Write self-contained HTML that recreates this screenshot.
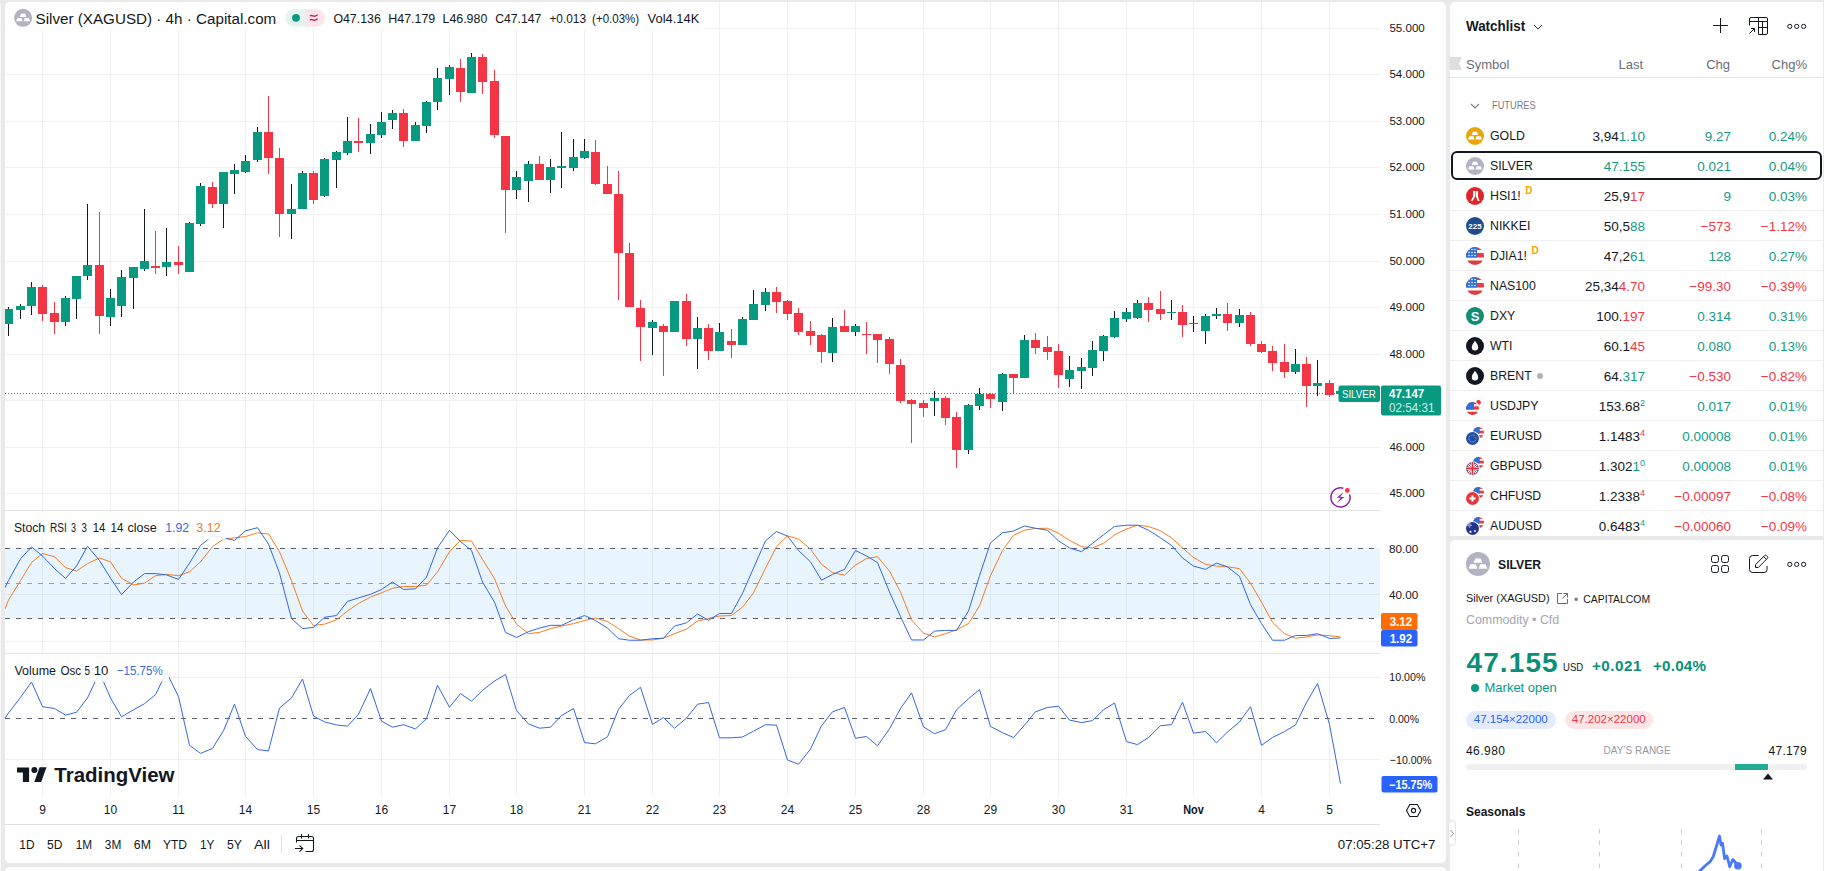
<!DOCTYPE html>
<html><head><meta charset="utf-8"><title>Silver (XAGUSD) 4h chart</title>
<style>
*{box-sizing:border-box}
html,body{margin:0;padding:0}
body{width:1824px;height:871px;overflow:hidden;background:#e9e9ea;position:relative;font-family:"Liberation Sans",Arial,sans-serif;color:#131722}
.abs{position:absolute}
#chartbg{position:absolute;left:5px;top:2px;width:1441px;height:860.5px;background:#fff;border-radius:5px}
#below{position:absolute;left:5px;top:867px;width:1441px;height:20px;background:#fff;border-radius:5px 5px 0 0}
#wl{position:absolute;left:1450px;top:2px;width:1373px;width:373px;height:534px;background:#fff;border-radius:5px 0 0 0}
#det{position:absolute;left:1450px;top:540px;width:373px;height:340px;background:#fff;border-radius:5px 0 0 0}
.row{position:absolute;left:0;width:373px;height:30px;border-bottom:1px solid #eeeeee}
.row .ic{position:absolute;left:16px;top:6px}
.row .sym{position:absolute;left:40px;top:7px;font-size:12.3px;line-height:16px;color:#131722}
.row .num{position:absolute;top:7.7px;font-size:13.5px;line-height:16px;text-align:right;white-space:nowrap}
.row .last{right:178px}
.row .chg{right:92px}
.row .chgp{right:16px}
.row sup{font-size:9px;vertical-align:0;position:relative;top:-5px}
.badge{position:relative;top:-6.5px;margin-left:4.5px;font-size:10px;font-weight:bold;color:#f5a300}
.gdot{display:inline-block;margin-left:5px;width:6px;height:6px;border-radius:3px;background:#b2b5be;vertical-align:1px}
.hd{position:absolute;font-size:13px;color:#6a6d78;top:55px}
</style></head>
<body>
<div id="chartbg"></div>
<div id="below"></div>
<div class="abs" style="left:0;top:4px;width:1px;height:867px;background:#f8f8f8"></div>
<svg class="abs" style="left:0;top:0" width="1446" height="871" viewBox="0 0 1446 871">
<defs><clipPath id="plot"><rect x="5" y="2" width="1375" height="860"/></clipPath></defs>
<g clip-path="url(#plot)">
<line x1="42.5" y1="2" x2="42.5" y2="510" stroke="#f0f0f0"/>
<line x1="42.5" y1="511" x2="42.5" y2="652" stroke="#f0f0f0"/>
<line x1="42.5" y1="654" x2="42.5" y2="796" stroke="#f0f0f0"/>
<line x1="110.5" y1="2" x2="110.5" y2="510" stroke="#f0f0f0"/>
<line x1="110.5" y1="511" x2="110.5" y2="652" stroke="#f0f0f0"/>
<line x1="110.5" y1="654" x2="110.5" y2="796" stroke="#f0f0f0"/>
<line x1="178.5" y1="2" x2="178.5" y2="510" stroke="#f0f0f0"/>
<line x1="178.5" y1="511" x2="178.5" y2="652" stroke="#f0f0f0"/>
<line x1="178.5" y1="654" x2="178.5" y2="796" stroke="#f0f0f0"/>
<line x1="245.5" y1="2" x2="245.5" y2="510" stroke="#f0f0f0"/>
<line x1="245.5" y1="511" x2="245.5" y2="652" stroke="#f0f0f0"/>
<line x1="245.5" y1="654" x2="245.5" y2="796" stroke="#f0f0f0"/>
<line x1="313.5" y1="2" x2="313.5" y2="510" stroke="#f0f0f0"/>
<line x1="313.5" y1="511" x2="313.5" y2="652" stroke="#f0f0f0"/>
<line x1="313.5" y1="654" x2="313.5" y2="796" stroke="#f0f0f0"/>
<line x1="381.5" y1="2" x2="381.5" y2="510" stroke="#f0f0f0"/>
<line x1="381.5" y1="511" x2="381.5" y2="652" stroke="#f0f0f0"/>
<line x1="381.5" y1="654" x2="381.5" y2="796" stroke="#f0f0f0"/>
<line x1="449.5" y1="2" x2="449.5" y2="510" stroke="#f0f0f0"/>
<line x1="449.5" y1="511" x2="449.5" y2="652" stroke="#f0f0f0"/>
<line x1="449.5" y1="654" x2="449.5" y2="796" stroke="#f0f0f0"/>
<line x1="516.5" y1="2" x2="516.5" y2="510" stroke="#f0f0f0"/>
<line x1="516.5" y1="511" x2="516.5" y2="652" stroke="#f0f0f0"/>
<line x1="516.5" y1="654" x2="516.5" y2="796" stroke="#f0f0f0"/>
<line x1="584.5" y1="2" x2="584.5" y2="510" stroke="#f0f0f0"/>
<line x1="584.5" y1="511" x2="584.5" y2="652" stroke="#f0f0f0"/>
<line x1="584.5" y1="654" x2="584.5" y2="796" stroke="#f0f0f0"/>
<line x1="652.5" y1="2" x2="652.5" y2="510" stroke="#f0f0f0"/>
<line x1="652.5" y1="511" x2="652.5" y2="652" stroke="#f0f0f0"/>
<line x1="652.5" y1="654" x2="652.5" y2="796" stroke="#f0f0f0"/>
<line x1="719.5" y1="2" x2="719.5" y2="510" stroke="#f0f0f0"/>
<line x1="719.5" y1="511" x2="719.5" y2="652" stroke="#f0f0f0"/>
<line x1="719.5" y1="654" x2="719.5" y2="796" stroke="#f0f0f0"/>
<line x1="787.5" y1="2" x2="787.5" y2="510" stroke="#f0f0f0"/>
<line x1="787.5" y1="511" x2="787.5" y2="652" stroke="#f0f0f0"/>
<line x1="787.5" y1="654" x2="787.5" y2="796" stroke="#f0f0f0"/>
<line x1="855.5" y1="2" x2="855.5" y2="510" stroke="#f0f0f0"/>
<line x1="855.5" y1="511" x2="855.5" y2="652" stroke="#f0f0f0"/>
<line x1="855.5" y1="654" x2="855.5" y2="796" stroke="#f0f0f0"/>
<line x1="923.5" y1="2" x2="923.5" y2="510" stroke="#f0f0f0"/>
<line x1="923.5" y1="511" x2="923.5" y2="652" stroke="#f0f0f0"/>
<line x1="923.5" y1="654" x2="923.5" y2="796" stroke="#f0f0f0"/>
<line x1="990.5" y1="2" x2="990.5" y2="510" stroke="#f0f0f0"/>
<line x1="990.5" y1="511" x2="990.5" y2="652" stroke="#f0f0f0"/>
<line x1="990.5" y1="654" x2="990.5" y2="796" stroke="#f0f0f0"/>
<line x1="1058.5" y1="2" x2="1058.5" y2="510" stroke="#f0f0f0"/>
<line x1="1058.5" y1="511" x2="1058.5" y2="652" stroke="#f0f0f0"/>
<line x1="1058.5" y1="654" x2="1058.5" y2="796" stroke="#f0f0f0"/>
<line x1="1126.5" y1="2" x2="1126.5" y2="510" stroke="#f0f0f0"/>
<line x1="1126.5" y1="511" x2="1126.5" y2="652" stroke="#f0f0f0"/>
<line x1="1126.5" y1="654" x2="1126.5" y2="796" stroke="#f0f0f0"/>
<line x1="1193.5" y1="2" x2="1193.5" y2="510" stroke="#f0f0f0"/>
<line x1="1193.5" y1="511" x2="1193.5" y2="652" stroke="#f0f0f0"/>
<line x1="1193.5" y1="654" x2="1193.5" y2="796" stroke="#f0f0f0"/>
<line x1="1261.5" y1="2" x2="1261.5" y2="510" stroke="#f0f0f0"/>
<line x1="1261.5" y1="511" x2="1261.5" y2="652" stroke="#f0f0f0"/>
<line x1="1261.5" y1="654" x2="1261.5" y2="796" stroke="#f0f0f0"/>
<line x1="1329.5" y1="2" x2="1329.5" y2="510" stroke="#f0f0f0"/>
<line x1="1329.5" y1="511" x2="1329.5" y2="652" stroke="#f0f0f0"/>
<line x1="1329.5" y1="654" x2="1329.5" y2="796" stroke="#f0f0f0"/>
<line x1="5" y1="28.5" x2="1380" y2="28.5" stroke="#f0f0f0"/>
<line x1="5" y1="74.5" x2="1380" y2="74.5" stroke="#f0f0f0"/>
<line x1="5" y1="121.5" x2="1380" y2="121.5" stroke="#f0f0f0"/>
<line x1="5" y1="167.5" x2="1380" y2="167.5" stroke="#f0f0f0"/>
<line x1="5" y1="214.5" x2="1380" y2="214.5" stroke="#f0f0f0"/>
<line x1="5" y1="261.5" x2="1380" y2="261.5" stroke="#f0f0f0"/>
<line x1="5" y1="307.5" x2="1380" y2="307.5" stroke="#f0f0f0"/>
<line x1="5" y1="354.5" x2="1380" y2="354.5" stroke="#f0f0f0"/>
<line x1="5" y1="400.5" x2="1380" y2="400.5" stroke="#f0f0f0"/>
<line x1="5" y1="447.5" x2="1380" y2="447.5" stroke="#f0f0f0"/>
<line x1="5" y1="493.5" x2="1380" y2="493.5" stroke="#f0f0f0"/>
<line x1="5" y1="594.5" x2="1380" y2="594.5" stroke="#f0f0f0"/>
<line x1="5" y1="641.5" x2="1380" y2="641.5" stroke="#f0f0f0"/>
<rect x="5" y="548" width="1375" height="70" fill="#2196f3" fill-opacity="0.1"/>
<line x1="5" y1="548.5" x2="1380" y2="548.5" stroke="#5f626d" stroke-dasharray="5,6"/>
<line x1="5" y1="583.5" x2="1380" y2="583.5" stroke="#9a9da6" stroke-dasharray="5,6"/>
<line x1="5" y1="618.5" x2="1380" y2="618.5" stroke="#5f626d" stroke-dasharray="5,6"/>
<line x1="5" y1="677.5" x2="1380" y2="677.5" stroke="#f0f0f0"/>
<line x1="5" y1="759.5" x2="1380" y2="759.5" stroke="#f0f0f0"/>
<line x1="5" y1="718.5" x2="1380" y2="718.5" stroke="#5f626d" stroke-dasharray="5,6"/>
<line x1="5" y1="510.5" x2="1446" y2="510.5" stroke="#e0e1e5"/>
<line x1="5" y1="653.5" x2="1446" y2="653.5" stroke="#e0e1e5"/>
<line x1="5" y1="824.5" x2="1446" y2="824.5" stroke="#e0e1e5"/>
<rect x="8" y="307" width="1" height="29" fill="#131722"/>
<rect x="4" y="309" width="9" height="15" fill="#089981"/>
<rect x="20" y="304" width="1" height="15" fill="#131722"/>
<rect x="16" y="306" width="9" height="4" fill="#089981"/>
<rect x="31" y="282" width="1" height="33" fill="#131722"/>
<rect x="27" y="287" width="9" height="19" fill="#089981"/>
<rect x="42" y="285" width="1" height="36" fill="#f23645"/>
<rect x="38" y="287" width="9" height="27" fill="#f23645"/>
<rect x="54" y="302" width="1" height="32" fill="#f23645"/>
<rect x="50" y="313" width="9" height="9" fill="#f23645"/>
<rect x="65" y="296" width="1" height="30" fill="#131722"/>
<rect x="61" y="298" width="9" height="24" fill="#089981"/>
<rect x="76" y="276" width="1" height="43" fill="#131722"/>
<rect x="72" y="276" width="9" height="23" fill="#089981"/>
<rect x="87" y="204" width="1" height="76" fill="#131722"/>
<rect x="83" y="265" width="9" height="11" fill="#089981"/>
<rect x="99" y="212" width="1" height="122" fill="#f23645"/>
<rect x="95" y="265" width="9" height="51" fill="#f23645"/>
<rect x="110" y="289" width="1" height="37" fill="#131722"/>
<rect x="106" y="298" width="9" height="19" fill="#089981"/>
<rect x="121" y="270" width="1" height="47" fill="#131722"/>
<rect x="117" y="277" width="9" height="29" fill="#089981"/>
<rect x="133" y="267" width="1" height="42" fill="#131722"/>
<rect x="129" y="267" width="9" height="11" fill="#089981"/>
<rect x="144" y="209" width="1" height="62" fill="#131722"/>
<rect x="140" y="261" width="9" height="8" fill="#089981"/>
<rect x="155" y="231" width="1" height="43" fill="#f23645"/>
<rect x="151" y="266" width="9" height="2" fill="#f23645"/>
<rect x="166" y="228" width="1" height="48" fill="#131722"/>
<rect x="162" y="262" width="9" height="5" fill="#089981"/>
<rect x="178" y="246" width="1" height="28" fill="#f23645"/>
<rect x="174" y="262" width="9" height="3" fill="#f23645"/>
<rect x="189" y="222" width="1" height="50" fill="#131722"/>
<rect x="185" y="223" width="9" height="49" fill="#089981"/>
<rect x="200" y="183" width="1" height="43" fill="#131722"/>
<rect x="196" y="186" width="9" height="38" fill="#089981"/>
<rect x="212" y="182" width="1" height="26" fill="#f23645"/>
<rect x="208" y="187" width="9" height="17" fill="#f23645"/>
<rect x="223" y="172" width="1" height="56" fill="#131722"/>
<rect x="219" y="172" width="9" height="32" fill="#089981"/>
<rect x="234" y="164" width="1" height="30" fill="#131722"/>
<rect x="230" y="170" width="9" height="4" fill="#089981"/>
<rect x="245" y="155" width="1" height="18" fill="#131722"/>
<rect x="241" y="161" width="9" height="11" fill="#089981"/>
<rect x="257" y="127" width="1" height="35" fill="#131722"/>
<rect x="253" y="132" width="9" height="28" fill="#089981"/>
<rect x="268" y="96" width="1" height="78" fill="#f23645"/>
<rect x="264" y="132" width="9" height="26" fill="#f23645"/>
<rect x="279" y="148" width="1" height="89" fill="#f23645"/>
<rect x="275" y="158" width="9" height="56" fill="#f23645"/>
<rect x="291" y="184" width="1" height="55" fill="#131722"/>
<rect x="287" y="209" width="9" height="5" fill="#089981"/>
<rect x="302" y="171" width="1" height="38" fill="#131722"/>
<rect x="298" y="173" width="9" height="36" fill="#089981"/>
<rect x="313" y="171" width="1" height="33" fill="#f23645"/>
<rect x="309" y="173" width="9" height="27" fill="#f23645"/>
<rect x="324" y="158" width="1" height="39" fill="#131722"/>
<rect x="320" y="159" width="9" height="37" fill="#089981"/>
<rect x="336" y="151" width="1" height="37" fill="#131722"/>
<rect x="332" y="152" width="9" height="8" fill="#089981"/>
<rect x="347" y="117" width="1" height="38" fill="#131722"/>
<rect x="343" y="141" width="9" height="12" fill="#089981"/>
<rect x="358" y="118" width="1" height="34" fill="#f23645"/>
<rect x="354" y="141" width="9" height="2" fill="#f23645"/>
<rect x="370" y="124" width="1" height="30" fill="#131722"/>
<rect x="366" y="134" width="9" height="9" fill="#089981"/>
<rect x="381" y="112" width="1" height="26" fill="#131722"/>
<rect x="377" y="122" width="9" height="13" fill="#089981"/>
<rect x="392" y="110" width="1" height="19" fill="#131722"/>
<rect x="388" y="113" width="9" height="7" fill="#089981"/>
<rect x="403" y="109" width="1" height="38" fill="#f23645"/>
<rect x="399" y="113" width="9" height="28" fill="#f23645"/>
<rect x="415" y="122" width="1" height="19" fill="#131722"/>
<rect x="411" y="125" width="9" height="16" fill="#089981"/>
<rect x="426" y="101" width="1" height="32" fill="#131722"/>
<rect x="422" y="102" width="9" height="24" fill="#089981"/>
<rect x="437" y="68" width="1" height="42" fill="#131722"/>
<rect x="433" y="78" width="9" height="24" fill="#089981"/>
<rect x="449" y="65" width="1" height="30" fill="#131722"/>
<rect x="445" y="67" width="9" height="12" fill="#089981"/>
<rect x="460" y="59" width="1" height="43" fill="#f23645"/>
<rect x="456" y="68" width="9" height="24" fill="#f23645"/>
<rect x="471" y="53" width="1" height="40" fill="#131722"/>
<rect x="467" y="57" width="9" height="36" fill="#089981"/>
<rect x="482" y="54" width="1" height="40" fill="#f23645"/>
<rect x="478" y="57" width="9" height="25" fill="#f23645"/>
<rect x="494" y="70" width="1" height="68" fill="#f23645"/>
<rect x="490" y="81" width="9" height="54" fill="#f23645"/>
<rect x="505" y="136" width="1" height="97" fill="#f23645"/>
<rect x="501" y="136" width="9" height="54" fill="#f23645"/>
<rect x="516" y="171" width="1" height="28" fill="#131722"/>
<rect x="512" y="177" width="9" height="13" fill="#089981"/>
<rect x="528" y="161" width="1" height="41" fill="#131722"/>
<rect x="524" y="164" width="9" height="17" fill="#089981"/>
<rect x="539" y="156" width="1" height="24" fill="#f23645"/>
<rect x="535" y="164" width="9" height="16" fill="#f23645"/>
<rect x="550" y="159" width="1" height="34" fill="#131722"/>
<rect x="546" y="167" width="9" height="13" fill="#089981"/>
<rect x="561" y="132" width="1" height="56" fill="#131722"/>
<rect x="557" y="166" width="9" height="2" fill="#089981"/>
<rect x="573" y="139" width="1" height="32" fill="#131722"/>
<rect x="569" y="157" width="9" height="11" fill="#089981"/>
<rect x="584" y="139" width="1" height="20" fill="#131722"/>
<rect x="580" y="151" width="9" height="7" fill="#089981"/>
<rect x="595" y="140" width="1" height="45" fill="#f23645"/>
<rect x="591" y="152" width="9" height="32" fill="#f23645"/>
<rect x="607" y="166" width="1" height="28" fill="#f23645"/>
<rect x="603" y="184" width="9" height="10" fill="#f23645"/>
<rect x="618" y="171" width="1" height="129" fill="#f23645"/>
<rect x="614" y="194" width="9" height="59" fill="#f23645"/>
<rect x="629" y="243" width="1" height="64" fill="#f23645"/>
<rect x="625" y="253" width="9" height="54" fill="#f23645"/>
<rect x="640" y="300" width="1" height="61" fill="#f23645"/>
<rect x="636" y="308" width="9" height="19" fill="#f23645"/>
<rect x="652" y="320" width="1" height="35" fill="#131722"/>
<rect x="648" y="322" width="9" height="6" fill="#089981"/>
<rect x="663" y="324" width="1" height="52" fill="#f23645"/>
<rect x="659" y="326" width="9" height="6" fill="#f23645"/>
<rect x="674" y="301" width="1" height="31" fill="#131722"/>
<rect x="670" y="301" width="9" height="31" fill="#089981"/>
<rect x="686" y="294" width="1" height="52" fill="#f23645"/>
<rect x="682" y="301" width="9" height="38" fill="#f23645"/>
<rect x="697" y="317" width="1" height="52" fill="#131722"/>
<rect x="693" y="328" width="9" height="11" fill="#089981"/>
<rect x="708" y="324" width="1" height="36" fill="#f23645"/>
<rect x="704" y="328" width="9" height="23" fill="#f23645"/>
<rect x="719" y="323" width="1" height="28" fill="#131722"/>
<rect x="715" y="332" width="9" height="19" fill="#089981"/>
<rect x="731" y="329" width="1" height="29" fill="#f23645"/>
<rect x="727" y="341" width="9" height="4" fill="#f23645"/>
<rect x="742" y="317" width="1" height="28" fill="#131722"/>
<rect x="738" y="319" width="9" height="26" fill="#089981"/>
<rect x="753" y="290" width="1" height="30" fill="#131722"/>
<rect x="749" y="304" width="9" height="16" fill="#089981"/>
<rect x="765" y="288" width="1" height="23" fill="#131722"/>
<rect x="761" y="292" width="9" height="13" fill="#089981"/>
<rect x="776" y="287" width="1" height="26" fill="#f23645"/>
<rect x="772" y="292" width="9" height="10" fill="#f23645"/>
<rect x="787" y="300" width="1" height="20" fill="#f23645"/>
<rect x="783" y="301" width="9" height="13" fill="#f23645"/>
<rect x="798" y="308" width="1" height="27" fill="#f23645"/>
<rect x="794" y="313" width="9" height="19" fill="#f23645"/>
<rect x="810" y="321" width="1" height="24" fill="#f23645"/>
<rect x="806" y="331" width="9" height="5" fill="#f23645"/>
<rect x="821" y="334" width="1" height="29" fill="#f23645"/>
<rect x="817" y="335" width="9" height="17" fill="#f23645"/>
<rect x="832" y="318" width="1" height="44" fill="#131722"/>
<rect x="828" y="327" width="9" height="26" fill="#089981"/>
<rect x="844" y="310" width="1" height="22" fill="#f23645"/>
<rect x="840" y="326" width="9" height="6" fill="#f23645"/>
<rect x="855" y="324" width="1" height="12" fill="#131722"/>
<rect x="851" y="326" width="9" height="6" fill="#089981"/>
<rect x="866" y="322" width="1" height="32" fill="#f23645"/>
<rect x="862" y="334" width="9" height="1" fill="#f23645"/>
<rect x="877" y="334" width="1" height="29" fill="#f23645"/>
<rect x="873" y="334" width="9" height="6" fill="#f23645"/>
<rect x="889" y="337" width="1" height="37" fill="#f23645"/>
<rect x="885" y="339" width="9" height="25" fill="#f23645"/>
<rect x="900" y="359" width="1" height="44" fill="#f23645"/>
<rect x="896" y="365" width="9" height="36" fill="#f23645"/>
<rect x="911" y="399" width="1" height="44" fill="#f23645"/>
<rect x="907" y="400" width="9" height="4" fill="#f23645"/>
<rect x="923" y="400" width="1" height="17" fill="#f23645"/>
<rect x="919" y="403" width="9" height="5" fill="#f23645"/>
<rect x="934" y="391" width="1" height="25" fill="#131722"/>
<rect x="930" y="398" width="9" height="3" fill="#089981"/>
<rect x="945" y="396" width="1" height="29" fill="#f23645"/>
<rect x="941" y="398" width="9" height="20" fill="#f23645"/>
<rect x="956" y="412" width="1" height="56" fill="#f23645"/>
<rect x="952" y="417" width="9" height="33" fill="#f23645"/>
<rect x="968" y="404" width="1" height="50" fill="#131722"/>
<rect x="964" y="405" width="9" height="45" fill="#089981"/>
<rect x="979" y="388" width="1" height="22" fill="#131722"/>
<rect x="975" y="394" width="9" height="12" fill="#089981"/>
<rect x="990" y="393" width="1" height="15" fill="#f23645"/>
<rect x="986" y="394" width="9" height="5" fill="#f23645"/>
<rect x="1002" y="373" width="1" height="38" fill="#131722"/>
<rect x="998" y="374" width="9" height="28" fill="#089981"/>
<rect x="1013" y="374" width="1" height="20" fill="#f23645"/>
<rect x="1009" y="374" width="9" height="4" fill="#f23645"/>
<rect x="1024" y="335" width="1" height="43" fill="#131722"/>
<rect x="1020" y="340" width="9" height="38" fill="#089981"/>
<rect x="1035" y="333" width="1" height="21" fill="#f23645"/>
<rect x="1031" y="340" width="9" height="8" fill="#f23645"/>
<rect x="1047" y="336" width="1" height="24" fill="#f23645"/>
<rect x="1043" y="347" width="9" height="5" fill="#f23645"/>
<rect x="1058" y="344" width="1" height="44" fill="#f23645"/>
<rect x="1054" y="351" width="9" height="24" fill="#f23645"/>
<rect x="1069" y="356" width="1" height="31" fill="#131722"/>
<rect x="1065" y="370" width="9" height="9" fill="#089981"/>
<rect x="1081" y="358" width="1" height="31" fill="#131722"/>
<rect x="1077" y="367" width="9" height="4" fill="#089981"/>
<rect x="1092" y="341" width="1" height="35" fill="#131722"/>
<rect x="1088" y="350" width="9" height="18" fill="#089981"/>
<rect x="1103" y="335" width="1" height="26" fill="#131722"/>
<rect x="1099" y="336" width="9" height="15" fill="#089981"/>
<rect x="1114" y="311" width="1" height="27" fill="#131722"/>
<rect x="1110" y="318" width="9" height="19" fill="#089981"/>
<rect x="1126" y="308" width="1" height="14" fill="#131722"/>
<rect x="1122" y="312" width="9" height="7" fill="#089981"/>
<rect x="1137" y="300" width="1" height="19" fill="#131722"/>
<rect x="1133" y="303" width="9" height="15" fill="#089981"/>
<rect x="1148" y="297" width="1" height="25" fill="#f23645"/>
<rect x="1144" y="303" width="9" height="7" fill="#f23645"/>
<rect x="1160" y="291" width="1" height="29" fill="#f23645"/>
<rect x="1156" y="309" width="9" height="5" fill="#f23645"/>
<rect x="1171" y="300" width="1" height="20" fill="#131722"/>
<rect x="1167" y="312" width="9" height="1" fill="#089981"/>
<rect x="1182" y="305" width="1" height="32" fill="#f23645"/>
<rect x="1178" y="312" width="9" height="13" fill="#f23645"/>
<rect x="1193" y="316" width="1" height="16" fill="#131722"/>
<rect x="1189" y="323" width="9" height="1" fill="#089981"/>
<rect x="1205" y="314" width="1" height="30" fill="#131722"/>
<rect x="1201" y="316" width="9" height="15" fill="#089981"/>
<rect x="1216" y="308" width="1" height="11" fill="#131722"/>
<rect x="1212" y="314" width="9" height="2" fill="#089981"/>
<rect x="1227" y="303" width="1" height="28" fill="#f23645"/>
<rect x="1223" y="314" width="9" height="9" fill="#f23645"/>
<rect x="1239" y="309" width="1" height="18" fill="#131722"/>
<rect x="1235" y="315" width="9" height="8" fill="#089981"/>
<rect x="1250" y="312" width="1" height="34" fill="#f23645"/>
<rect x="1246" y="315" width="9" height="29" fill="#f23645"/>
<rect x="1261" y="341" width="1" height="12" fill="#f23645"/>
<rect x="1257" y="344" width="9" height="8" fill="#f23645"/>
<rect x="1272" y="346" width="1" height="25" fill="#f23645"/>
<rect x="1268" y="351" width="9" height="12" fill="#f23645"/>
<rect x="1284" y="344" width="1" height="34" fill="#f23645"/>
<rect x="1280" y="362" width="9" height="10" fill="#f23645"/>
<rect x="1295" y="349" width="1" height="25" fill="#131722"/>
<rect x="1291" y="364" width="9" height="8" fill="#089981"/>
<rect x="1306" y="357" width="1" height="50" fill="#f23645"/>
<rect x="1302" y="364" width="9" height="22" fill="#f23645"/>
<rect x="1317" y="360" width="1" height="36" fill="#131722"/>
<rect x="1313" y="383" width="9" height="3" fill="#089981"/>
<rect x="1329" y="380" width="1" height="17" fill="#f23645"/>
<rect x="1325" y="383" width="9" height="12" fill="#f23645"/>
<rect x="1340" y="388" width="1" height="8" fill="#131722"/>
<rect x="1336" y="391" width="9" height="3" fill="#089981"/>
<line x1="5" y1="393.5" x2="1338" y2="393.5" stroke="#089981" stroke-dasharray="1,2"/>
<polyline points="5,609 8.5,600 20.5,580.7 31.5,562.5 42.5,553.5 54.5,556.7 65.5,567.6 76.5,571.1 87.5,563.6 99.5,558 110.5,561.8 121.5,578.2 133.5,585 144.5,583.2 155.5,575.7 166.5,574.4 178.5,575.7 189.5,571.9 200.5,561.8 212.5,546.7 223.5,539.1 234.5,537.8 245.5,536.6 257.5,532.8 268.5,534 279.5,551.7 291.5,580.7 302.5,611 313.5,625.6 324.5,624.1 336.5,619.8 347.5,611 358.5,603.4 370.5,597.1 381.5,592.8 392.5,588.3 403.5,586.5 415.5,586.5 426.5,585.2 437.5,571.9 449.5,551.7 460.5,540.35 471.5,541.11 482.5,559.27 494.5,578.69 505.5,605.93 516.5,624.09 528.5,633.67 539.5,632.41 550.5,628.63 561.5,626.1 573.5,623.58 584.5,620.55 595.5,618.03 607.5,621.56 618.5,628.63 629.5,636.19 640.5,639.97 652.5,639.97 663.5,638.21 674.5,633.67 686.5,629.13 697.5,621.06 708.5,618.54 719.5,616.02 731.5,615.51 742.5,607.19 753.5,592.81 765.5,568.1 776.5,546.66 787.5,535.81 798.5,539.09 810.5,549.18 821.5,564.31 832.5,572.64 844.5,575.16 855.5,565.07 866.5,558.51 877.5,556.75 889.5,571.12 900.5,592.06 911.5,619.8 923.5,633.17 934.5,636.95 945.5,633.67 956.5,629.89 968.5,623.58 979.5,605.93 990.5,575.66 1002.5,550.44 1013.5,535.31 1024.5,530.26 1035.5,528.5 1047.5,528.25 1058.5,533.29 1069.5,540.35 1081.5,546.66 1092.5,547.92 1103.5,543.38 1114.5,534.8 1126.5,529 1137.5,525.22 1148.5,526.48 1160.5,530.77 1171.5,537.83 1182.5,547.92 1193.5,557.5 1205.5,564.31 1216.5,566.08 1227.5,566.83 1239.5,568.6 1250.5,583.23 1261.5,602.14 1272.5,622.32 1284.5,633.67 1295.5,638.21 1306.5,636.95 1317.5,634.93 1329.5,635.69 1340.5,636.95" fill="none" stroke="#f57d22" stroke-width="1" stroke-linejoin="round"/>
<polyline points="5,587.8 8.5,580.5 20.5,558.8 31.5,546.9 42.5,556 54.5,568.6 65.5,578.4 76.5,566.1 87.5,546.2 99.5,560.5 110.5,578.2 121.5,594.6 133.5,582 144.5,573.6 155.5,573.6 166.5,574.9 178.5,579.4 189.5,563.1 200.5,545.4 212.5,535.8 223.5,537.8 234.5,540.4 245.5,530.8 257.5,527.7 268.5,544.1 279.5,573.1 291.5,618.5 302.5,628.6 313.5,627.4 324.5,617.3 336.5,615.5 347.5,601.4 358.5,597.9 370.5,594.3 381.5,589.5 392.5,582 403.5,589.5 415.5,588.8 426.5,577.2 437.5,547.9 449.5,530.3 460.5,541.61 471.5,550.44 482.5,581.97 494.5,602.14 505.5,632.41 516.5,637.45 528.5,631.65 539.5,628.12 550.5,625.35 561.5,625.35 573.5,619.8 584.5,615.51 595.5,620.55 607.5,628.12 618.5,638.71 629.5,640.23 640.5,640.23 652.5,638.71 663.5,638.21 674.5,626.1 686.5,622.82 697.5,614 708.5,620.3 719.5,613.49 731.5,613.49 742.5,593.32 753.5,568.1 765.5,540.86 776.5,531.53 787.5,536.07 798.5,550.44 810.5,561.79 821.5,580.2 832.5,574.4 844.5,569.36 855.5,550.44 866.5,555.99 877.5,562.55 889.5,592.06 900.5,616.52 911.5,639.97 923.5,639.97 934.5,631.15 945.5,630.39 956.5,630.39 968.5,610.97 979.5,575.66 990.5,542.88 1002.5,532.79 1013.5,531.02 1024.5,525.98 1035.5,528.25 1047.5,530.26 1058.5,540.86 1069.5,547.92 1081.5,551.7 1092.5,543.38 1103.5,534.8 1114.5,526.48 1126.5,525.22 1137.5,525.22 1148.5,530.26 1160.5,537.83 1171.5,545.4 1182.5,558.01 1193.5,566.08 1205.5,569.36 1216.5,563.05 1227.5,566.83 1239.5,576.42 1250.5,604.67 1261.5,623.58 1272.5,640.23 1284.5,640.23 1295.5,635.44 1306.5,635.44 1317.5,633.67 1329.5,638.46 1340.5,637.96" fill="none" stroke="#3467e0" stroke-width="1" stroke-linejoin="round"/>
<polyline points="5,718 8.5,713.1 20.5,697.4 31.5,682 42.5,706.7 54.5,708.5 65.5,715.1 76.5,712.3 87.5,697.9 99.5,672.5 110.5,697.9 121.5,716.8 133.5,709.8 144.5,703.7 155.5,694.6 166.5,672.2 178.5,696.7 189.5,745.3 200.5,753.4 212.5,748.4 223.5,730.7 234.5,704.2 245.5,736.3 257.5,749.6 268.5,750.9 279.5,708 291.5,697.9 302.5,679 313.5,716.1 324.5,721.9 336.5,724.9 347.5,726.2 358.5,714.3 370.5,688.6 381.5,721.1 392.5,727.2 403.5,724.7 415.5,728.9 426.5,718.6 437.5,685.3 449.5,707.3 460.5,693.6 471.5,701.2 482.5,690.4 494.5,681 505.5,674.5 516.5,710.5 528.5,723.9 539.5,728.2 550.5,727.2 561.5,715.6 573.5,708.5 584.5,742.6 595.5,743.8 607.5,736.8 618.5,709.3 629.5,695.4 640.5,687.3 652.5,724.4 663.5,717.6 674.5,728.2 686.5,718.1 697.5,704.2 708.5,702.5 719.5,737.8 731.5,737.8 742.5,737 753.5,731.2 765.5,724.7 776.5,725.2 787.5,760 798.5,764.2 810.5,749.1 821.5,725.7 832.5,711.8 844.5,707.5 855.5,738.3 866.5,736.5 877.5,745.8 889.5,728.9 900.5,708.5 911.5,692.9 923.5,726.9 934.5,733.7 945.5,729.7 956.5,709.8 968.5,698.7 979.5,689.6 990.5,726.4 1002.5,732.7 1013.5,737.5 1024.5,725.2 1035.5,711.8 1047.5,707.5 1058.5,706.2 1069.5,720.1 1081.5,722.6 1092.5,720.6 1103.5,709.8 1114.5,703 1126.5,741.6 1137.5,744.6 1148.5,737.5 1160.5,725.7 1171.5,724.7 1182.5,702.2 1193.5,733.2 1205.5,731.5 1216.5,742.8 1227.5,732 1239.5,721.9 1250.5,706.7 1261.5,745.3 1272.5,737.5 1284.5,731.5 1295.5,724.9 1306.5,702.5 1317.5,683.5 1329.5,724.4 1340.5,783.5" fill="none" stroke="#3467e0" stroke-width="1" stroke-linejoin="round"/>
</g>
<rect x="6" y="3" width="699" height="26" fill="#fff" fill-opacity="0.92"/>
<rect x="5" y="511" width="221" height="28.5" fill="#fff" fill-opacity="0.85"/>
<rect x="5" y="654" width="164" height="28" fill="#fff" fill-opacity="0.85"/>

<g transform="translate(14.1 8.8)"><circle cx="9" cy="9" r="9" fill="#b3b2c3"/><path d="M7 4.8h4l1.3 3.3h-6.6z M3.3 9.2h4.1l1.1 3.3h-6.5z M10.6 9.2h4.1l1.3 3.3h-6.5z" fill="#fff"/></g>
<rect x="285.3" y="9.2" width="39.4" height="17.2" rx="8.6" fill="#e3f3ef"/>
<path d="M305 9.2h11.1a8.6 8.6 0 0 1 0 17.2h-11.1z" fill="#fde3ea"/>
<circle cx="296" cy="17.8" r="3.9" fill="#089981"/>
<path d="M310 16.2c1.2-1.6 2.6-0.2 4 0s2.6-0.6 3.6-1.4 M310 20.2c1.2-1.6 2.6-0.2 4 0s2.6-0.6 3.6-1.4" fill="none" stroke="#b5245e" stroke-width="1.3"/>


<rect x="1338.5" y="385.5" width="41.5" height="16.5" rx="2" fill="#089981"/>
<text x="1341.9" y="397.5" font-size="11" fill="#fff" font-family='"Liberation Sans", Arial, sans-serif' textLength="33.9" lengthAdjust="spacingAndGlyphs">SILVER</text>
<rect x="1381" y="385.5" width="60" height="30" rx="2" fill="#089981"/>
<text x="1389.1" y="398" font-size="12" fill="#fff" font-weight="bold" font-family='"Liberation Sans", Arial, sans-serif' textLength="35.1" lengthAdjust="spacingAndGlyphs">47.147</text>
<text x="1389.1" y="411.5" font-size="12" fill="#fff" fill-opacity="0.85" font-family='"Liberation Sans", Arial, sans-serif' textLength="45.5" lengthAdjust="spacingAndGlyphs">02:54:31</text>
<rect x="1381" y="613" width="36.5" height="17" rx="2" fill="#ff6d00"/>
<text x="1389.7" y="626" font-size="12" fill="#fff" font-weight="bold" font-family='"Liberation Sans", Arial, sans-serif' textLength="22.5" lengthAdjust="spacingAndGlyphs">3.12</text>
<rect x="1381" y="630" width="36.5" height="16.5" rx="2" fill="#2962ff"/>
<text x="1389.7" y="642.5" font-size="12" fill="#fff" font-weight="bold" font-family='"Liberation Sans", Arial, sans-serif' textLength="22.5" lengthAdjust="spacingAndGlyphs">1.92</text>
<rect x="1381.5" y="776" width="56" height="16.5" rx="2" fill="#2962ff"/>
<text x="1389.1" y="788.5" font-size="12" fill="#fff" font-weight="bold" font-family='"Liberation Sans", Arial, sans-serif' textLength="43.1" lengthAdjust="spacingAndGlyphs">−15.75%</text>


<path d="M17 767.5h12.1v14.4h-6.2v-9.3h-5.9z" fill="#131722"/>
<circle cx="34.4" cy="769.9" r="3" fill="#131722"/>
<path d="M39.6 767.3h6.9l-5.3 14.6h-6.9z" fill="#131722"/>
<text x="54.3" y="782" font-size="20.5" font-weight="bold" fill="#131722" font-family='"Liberation Sans", Arial, sans-serif' textLength="120.2" lengthAdjust="spacingAndGlyphs">TradingView</text>


<path d="M1343.34 488.23A9.6 9.6 0 1 0 1349.65 494.48" fill="none" stroke="#8e24aa" stroke-width="1.5"/>
<path d="M1343.3 492.3l-6.6 5.4h4l-3.6 5.4 7.3-6.2h-4.1z" fill="#8e24aa"/>
<circle cx="1347.3" cy="490.4" r="2.4" fill="#f23645"/>


<path d="M1409.8 804.5h7.6l3.3 6-3.3 6h-7.6l-3.3-6z" fill="none" stroke="#131722" stroke-width="1.1"/>
<circle cx="1413.5" cy="810.5" r="2.1" fill="none" stroke="#131722" stroke-width="1.1"/>
<line x1="281.5" y1="834" x2="281.5" y2="854" stroke="#e0e3eb"/>
<g fill="none" stroke="#131722" stroke-width="1.1">
<path d="M296.5 842.5V838.5a2 2 0 0 1 2-2H311.5a2 2 0 0 1 2 2V849.5a2 2 0 0 1-2 2H305.5M296.5 840.5H313.5M301.5 834V838.5M308.5 834V838.5M295 848.5H302.5M299.5 845.3l3.2 3.2-3.2 3.2"/>
</g>

<text x="1389.4" y="31.8" font-size="11.8" fill="#131722" text-anchor="start" font-weight="normal" font-family='"Liberation Sans", Arial, sans-serif'  textLength="35.4" lengthAdjust="spacingAndGlyphs">55.000</text>
<text x="1389.4" y="77.8" font-size="11.8" fill="#131722" text-anchor="start" font-weight="normal" font-family='"Liberation Sans", Arial, sans-serif'  textLength="35.4" lengthAdjust="spacingAndGlyphs">54.000</text>
<text x="1389.4" y="124.8" font-size="11.8" fill="#131722" text-anchor="start" font-weight="normal" font-family='"Liberation Sans", Arial, sans-serif'  textLength="35.4" lengthAdjust="spacingAndGlyphs">53.000</text>
<text x="1389.4" y="170.8" font-size="11.8" fill="#131722" text-anchor="start" font-weight="normal" font-family='"Liberation Sans", Arial, sans-serif'  textLength="35.4" lengthAdjust="spacingAndGlyphs">52.000</text>
<text x="1389.4" y="217.8" font-size="11.8" fill="#131722" text-anchor="start" font-weight="normal" font-family='"Liberation Sans", Arial, sans-serif'  textLength="35.4" lengthAdjust="spacingAndGlyphs">51.000</text>
<text x="1389.4" y="264.8" font-size="11.8" fill="#131722" text-anchor="start" font-weight="normal" font-family='"Liberation Sans", Arial, sans-serif'  textLength="35.4" lengthAdjust="spacingAndGlyphs">50.000</text>
<text x="1389.4" y="310.8" font-size="11.8" fill="#131722" text-anchor="start" font-weight="normal" font-family='"Liberation Sans", Arial, sans-serif'  textLength="35.4" lengthAdjust="spacingAndGlyphs">49.000</text>
<text x="1389.4" y="357.8" font-size="11.8" fill="#131722" text-anchor="start" font-weight="normal" font-family='"Liberation Sans", Arial, sans-serif'  textLength="35.4" lengthAdjust="spacingAndGlyphs">48.000</text>
<text x="1389.4" y="450.8" font-size="11.8" fill="#131722" text-anchor="start" font-weight="normal" font-family='"Liberation Sans", Arial, sans-serif'  textLength="35.4" lengthAdjust="spacingAndGlyphs">46.000</text>
<text x="1389.4" y="496.8" font-size="11.8" fill="#131722" text-anchor="start" font-weight="normal" font-family='"Liberation Sans", Arial, sans-serif'  textLength="35.4" lengthAdjust="spacingAndGlyphs">45.000</text>
<text x="1389" y="552.5" font-size="11.8" fill="#131722" text-anchor="start" font-weight="normal" font-family='"Liberation Sans", Arial, sans-serif'  textLength="29.4" lengthAdjust="spacingAndGlyphs">80.00</text>
<text x="1389" y="598.5" font-size="11.8" fill="#131722" text-anchor="start" font-weight="normal" font-family='"Liberation Sans", Arial, sans-serif'  textLength="29.4" lengthAdjust="spacingAndGlyphs">40.00</text>
<text x="1389.3" y="681" font-size="11.8" fill="#131722" text-anchor="start" font-weight="normal" font-family='"Liberation Sans", Arial, sans-serif'  textLength="36.1" lengthAdjust="spacingAndGlyphs">10.00%</text>
<text x="1389.3" y="723" font-size="11.8" fill="#131722" text-anchor="start" font-weight="normal" font-family='"Liberation Sans", Arial, sans-serif'  textLength="29.7" lengthAdjust="spacingAndGlyphs">0.00%</text>
<text x="1389.9" y="764" font-size="11.8" fill="#131722" text-anchor="start" font-weight="normal" font-family='"Liberation Sans", Arial, sans-serif'  textLength="41.8" lengthAdjust="spacingAndGlyphs">−10.00%</text>
<text x="42.5" y="814" font-size="12" fill="#131722" text-anchor="middle" font-weight="normal" font-family='"Liberation Sans", Arial, sans-serif' >9</text>
<text x="110.5" y="814" font-size="12" fill="#131722" text-anchor="middle" font-weight="normal" font-family='"Liberation Sans", Arial, sans-serif' >10</text>
<text x="178.5" y="814" font-size="12" fill="#131722" text-anchor="middle" font-weight="normal" font-family='"Liberation Sans", Arial, sans-serif' >11</text>
<text x="245.5" y="814" font-size="12" fill="#131722" text-anchor="middle" font-weight="normal" font-family='"Liberation Sans", Arial, sans-serif' >14</text>
<text x="313.5" y="814" font-size="12" fill="#131722" text-anchor="middle" font-weight="normal" font-family='"Liberation Sans", Arial, sans-serif' >15</text>
<text x="381.5" y="814" font-size="12" fill="#131722" text-anchor="middle" font-weight="normal" font-family='"Liberation Sans", Arial, sans-serif' >16</text>
<text x="449.5" y="814" font-size="12" fill="#131722" text-anchor="middle" font-weight="normal" font-family='"Liberation Sans", Arial, sans-serif' >17</text>
<text x="516.5" y="814" font-size="12" fill="#131722" text-anchor="middle" font-weight="normal" font-family='"Liberation Sans", Arial, sans-serif' >18</text>
<text x="584.5" y="814" font-size="12" fill="#131722" text-anchor="middle" font-weight="normal" font-family='"Liberation Sans", Arial, sans-serif' >21</text>
<text x="652.5" y="814" font-size="12" fill="#131722" text-anchor="middle" font-weight="normal" font-family='"Liberation Sans", Arial, sans-serif' >22</text>
<text x="719.5" y="814" font-size="12" fill="#131722" text-anchor="middle" font-weight="normal" font-family='"Liberation Sans", Arial, sans-serif' >23</text>
<text x="787.5" y="814" font-size="12" fill="#131722" text-anchor="middle" font-weight="normal" font-family='"Liberation Sans", Arial, sans-serif' >24</text>
<text x="855.5" y="814" font-size="12" fill="#131722" text-anchor="middle" font-weight="normal" font-family='"Liberation Sans", Arial, sans-serif' >25</text>
<text x="923.5" y="814" font-size="12" fill="#131722" text-anchor="middle" font-weight="normal" font-family='"Liberation Sans", Arial, sans-serif' >28</text>
<text x="990.5" y="814" font-size="12" fill="#131722" text-anchor="middle" font-weight="normal" font-family='"Liberation Sans", Arial, sans-serif' >29</text>
<text x="1058.5" y="814" font-size="12" fill="#131722" text-anchor="middle" font-weight="normal" font-family='"Liberation Sans", Arial, sans-serif' >30</text>
<text x="1126.5" y="814" font-size="12" fill="#131722" text-anchor="middle" font-weight="normal" font-family='"Liberation Sans", Arial, sans-serif' >31</text>
<text x="1183.2" y="814" font-size="12" fill="#131722" text-anchor="start" font-weight="bold" font-family='"Liberation Sans", Arial, sans-serif'  textLength="20.6" lengthAdjust="spacingAndGlyphs">Nov</text>
<text x="1261.5" y="814" font-size="12" fill="#131722" text-anchor="middle" font-weight="normal" font-family='"Liberation Sans", Arial, sans-serif' >4</text>
<text x="1329.5" y="814" font-size="12" fill="#131722" text-anchor="middle" font-weight="normal" font-family='"Liberation Sans", Arial, sans-serif' >5</text>
<text x="35.5" y="23.5" font-size="15.3" fill="#131722" text-anchor="start" font-weight="normal" font-family='"Liberation Sans", Arial, sans-serif'  textLength="240.8" lengthAdjust="spacingAndGlyphs">Silver (XAGUSD) · 4h · Capital.com</text>
<text x="333.4" y="23" font-size="13" fill="#131722" text-anchor="start" font-weight="normal" font-family='"Liberation Sans", Arial, sans-serif'  textLength="47.4" lengthAdjust="spacingAndGlyphs">O47.136</text>
<text x="388.3" y="23" font-size="13" fill="#131722" text-anchor="start" font-weight="normal" font-family='"Liberation Sans", Arial, sans-serif'  textLength="46.9" lengthAdjust="spacingAndGlyphs">H47.179</text>
<text x="442.5" y="23" font-size="13" fill="#131722" text-anchor="start" font-weight="normal" font-family='"Liberation Sans", Arial, sans-serif'  textLength="44.8" lengthAdjust="spacingAndGlyphs">L46.980</text>
<text x="495.2" y="23" font-size="13" fill="#131722" text-anchor="start" font-weight="normal" font-family='"Liberation Sans", Arial, sans-serif'  textLength="46.2" lengthAdjust="spacingAndGlyphs">C47.147</text>
<text x="549.4" y="23" font-size="13" fill="#131722" text-anchor="start" font-weight="normal" font-family='"Liberation Sans", Arial, sans-serif'  textLength="36.6" lengthAdjust="spacingAndGlyphs">+0.013</text>
<text x="592.1" y="23" font-size="13" fill="#131722" text-anchor="start" font-weight="normal" font-family='"Liberation Sans", Arial, sans-serif'  textLength="47.0" lengthAdjust="spacingAndGlyphs">(+0.03%)</text>
<text x="647.6" y="23" font-size="13" fill="#131722" text-anchor="start" font-weight="normal" font-family='"Liberation Sans", Arial, sans-serif'  textLength="51.8" lengthAdjust="spacingAndGlyphs">Vol4.14K</text>
<text x="13.95" y="531.5" font-size="12.5" fill="#131722" text-anchor="start" font-weight="normal" font-family='"Liberation Sans", Arial, sans-serif'  textLength="31.1" lengthAdjust="spacingAndGlyphs">Stoch</text>
<text x="49.9" y="531.5" font-size="12.5" fill="#131722" text-anchor="start" font-weight="normal" font-family='"Liberation Sans", Arial, sans-serif'  textLength="16.8" lengthAdjust="spacingAndGlyphs">RSI</text>
<text x="71" y="531.5" font-size="12.5" fill="#131722" text-anchor="start" font-weight="normal" font-family='"Liberation Sans", Arial, sans-serif'  textLength="5" lengthAdjust="spacingAndGlyphs">3</text>
<text x="81.4" y="531.5" font-size="12.5" fill="#131722" text-anchor="start" font-weight="normal" font-family='"Liberation Sans", Arial, sans-serif'  textLength="5.4" lengthAdjust="spacingAndGlyphs">3</text>
<text x="92.7" y="531.5" font-size="12.5" fill="#131722" text-anchor="start" font-weight="normal" font-family='"Liberation Sans", Arial, sans-serif'  textLength="12.7" lengthAdjust="spacingAndGlyphs">14</text>
<text x="110.5" y="531.5" font-size="12.5" fill="#131722" text-anchor="start" font-weight="normal" font-family='"Liberation Sans", Arial, sans-serif'  textLength="12.8" lengthAdjust="spacingAndGlyphs">14</text>
<text x="127.4" y="531.5" font-size="12.5" fill="#131722" text-anchor="start" font-weight="normal" font-family='"Liberation Sans", Arial, sans-serif'  textLength="29.2" lengthAdjust="spacingAndGlyphs">close</text>
<text x="165.2" y="531.5" font-size="12.5" fill="#3a6bd9" text-anchor="start" font-weight="normal" font-family='"Liberation Sans", Arial, sans-serif'  textLength="24" lengthAdjust="spacingAndGlyphs">1.92</text>
<text x="196.2" y="531.5" font-size="12.5" fill="#ec7a2c" text-anchor="start" font-weight="normal" font-family='"Liberation Sans", Arial, sans-serif'  textLength="24.5" lengthAdjust="spacingAndGlyphs">3.12</text>
<text x="14.4" y="675" font-size="12.5" fill="#131722" text-anchor="start" font-weight="normal" font-family='"Liberation Sans", Arial, sans-serif'  textLength="41.6" lengthAdjust="spacingAndGlyphs">Volume</text>
<text x="60.5" y="675" font-size="12.5" fill="#131722" text-anchor="start" font-weight="normal" font-family='"Liberation Sans", Arial, sans-serif'  textLength="20.7" lengthAdjust="spacingAndGlyphs">Osc</text>
<text x="84.5" y="675" font-size="12.5" fill="#131722" text-anchor="start" font-weight="normal" font-family='"Liberation Sans", Arial, sans-serif'  textLength="5.5" lengthAdjust="spacingAndGlyphs">5</text>
<text x="93.8" y="675" font-size="12.5" fill="#131722" text-anchor="start" font-weight="normal" font-family='"Liberation Sans", Arial, sans-serif'  textLength="14.6" lengthAdjust="spacingAndGlyphs">10</text>
<text x="116.8" y="675" font-size="12.5" fill="#3a6bd9" text-anchor="start" font-weight="normal" font-family='"Liberation Sans", Arial, sans-serif'  textLength="45.9" lengthAdjust="spacingAndGlyphs">−15.75%</text>
<text x="19.3" y="848.5" font-size="12.5" fill="#131722" text-anchor="start" font-weight="normal" font-family='"Liberation Sans", Arial, sans-serif'  textLength="15.3" lengthAdjust="spacingAndGlyphs">1D</text>
<text x="47.1" y="848.5" font-size="12.5" fill="#131722" text-anchor="start" font-weight="normal" font-family='"Liberation Sans", Arial, sans-serif'  textLength="15.4" lengthAdjust="spacingAndGlyphs">5D</text>
<text x="75.7" y="848.5" font-size="12.5" fill="#131722" text-anchor="start" font-weight="normal" font-family='"Liberation Sans", Arial, sans-serif'  textLength="16.4" lengthAdjust="spacingAndGlyphs">1M</text>
<text x="104.8" y="848.5" font-size="12.5" fill="#131722" text-anchor="start" font-weight="normal" font-family='"Liberation Sans", Arial, sans-serif'  textLength="16.5" lengthAdjust="spacingAndGlyphs">3M</text>
<text x="133.8" y="848.5" font-size="12.5" fill="#131722" text-anchor="start" font-weight="normal" font-family='"Liberation Sans", Arial, sans-serif'  textLength="17.1" lengthAdjust="spacingAndGlyphs">6M</text>
<text x="163" y="848.5" font-size="12.5" fill="#131722" text-anchor="start" font-weight="normal" font-family='"Liberation Sans", Arial, sans-serif'  textLength="24" lengthAdjust="spacingAndGlyphs">YTD</text>
<text x="200" y="848.5" font-size="12.5" fill="#131722" text-anchor="start" font-weight="normal" font-family='"Liberation Sans", Arial, sans-serif'  textLength="14.5" lengthAdjust="spacingAndGlyphs">1Y</text>
<text x="227" y="848.5" font-size="12.5" fill="#131722" text-anchor="start" font-weight="normal" font-family='"Liberation Sans", Arial, sans-serif'  textLength="15" lengthAdjust="spacingAndGlyphs">5Y</text>
<text x="254" y="848.5" font-size="12.5" fill="#131722" text-anchor="start" font-weight="normal" font-family='"Liberation Sans", Arial, sans-serif'  textLength="16" lengthAdjust="spacingAndGlyphs">All</text>
<text x="1337.8" y="848.5" font-size="13" fill="#131722" text-anchor="start" font-weight="normal" font-family='"Liberation Sans", Arial, sans-serif'  textLength="97.7" lengthAdjust="spacingAndGlyphs">07:05:28 UTC+7</text>
</svg>
<div id="wl">
<div class="abs" style="left:16px;top:15.6px;font-size:14.2px;font-weight:bold;color:#131722;transform:scaleX(0.945);transform-origin:0 0">Watchlist</div>
<svg class="abs" style="left:83px;top:20.5px" width="10" height="8" viewBox="0 0 10 8"><path d="M1 2l4 4 4-4" fill="none" stroke="#2a2e39" stroke-width="1"/></svg>
<svg class="abs" style="left:0;top:55px" width="12" height="13" viewBox="0 0 12 13"><path d="M0 0h12l-3 6.5 3 6.5h-12z" fill="#dedede"/></svg>
<div class="hd" style="left:16px">Symbol</div>
<div class="hd" style="right:180px;text-align:right">Last</div>
<div class="hd" style="right:93px;text-align:right">Chg</div>
<div class="hd" style="right:16px;text-align:right">Chg%</div>
<div class="abs" style="left:0;top:75px;width:373px;height:1px;background:#e4e4e7"></div>
<svg class="abs" style="left:20px;top:100px" width="10" height="8" viewBox="0 0 10 8"><path d="M1 2l4 4 4-4" fill="none" stroke="#787b86" stroke-width="1.1"/></svg>
<div class="abs" style="left:42.2px;top:96.8px;font-size:10.5px;color:#787b86;transform:scaleX(0.88);transform-origin:0 0">FUTURES</div>
<div class="row" style="top:119px;border-bottom:none">
<svg class="ic" width="18" height="18" viewBox="0 0 18 18"><circle cx="9" cy="9" r="9" fill="#e8a50c"/><path d="M7 4.8h4l1.3 3.3h-6.6z M3.3 9.2h4.1l1.1 3.3h-6.5z M10.6 9.2h4.1l1.3 3.3h-6.5z" fill="#fff"/></svg>
<span class="sym">GOLD</span>
<span class="num last"><span style="color:#131722">3,94</span><span style="color:#139a85">1.10</span></span>
<span class="num chg" style="color:#139a85">9.27</span>
<span class="num chgp" style="color:#139a85">0.24%</span>
</div>
<div class="row" style="top:149px;border-bottom:none">
<svg class="ic" width="18" height="18" viewBox="0 0 18 18"><circle cx="9" cy="9" r="9" fill="#b3b2c3"/><path d="M7 4.8h4l1.3 3.3h-6.6z M3.3 9.2h4.1l1.1 3.3h-6.5z M10.6 9.2h4.1l1.3 3.3h-6.5z" fill="#fff"/></svg>
<span class="sym">SILVER</span>
<span class="num last"><span style="color:#139a85">47.155</span></span>
<span class="num chg" style="color:#139a85">0.021</span>
<span class="num chgp" style="color:#139a85">0.04%</span>
</div>
<div class="row" style="top:179px">
<svg class="ic" width="18" height="18" viewBox="0 0 18 18"><circle cx="9" cy="9" r="9" fill="#e0252b"/><path d="M7 4h2.2v5.5L6.5 14H4.8l2.2-4.5z M9.8 4H12v5.5l1.5 4.5h-1.7L9.8 9.5z" fill="#fff"/></svg>
<span class="sym">HSI1!<span class="badge">D</span></span>
<span class="num last"><span style="color:#131722">25,9</span><span style="color:#f23645">17</span></span>
<span class="num chg" style="color:#139a85">9</span>
<span class="num chgp" style="color:#139a85">0.03%</span>
</div>
<div class="row" style="top:209px">
<svg class="ic" width="18" height="18" viewBox="0 0 18 18"><circle cx="9" cy="9" r="9" fill="#1e4c8c"/><text x="9" y="12" font-size="8" font-weight="bold" fill="#fff" text-anchor="middle" font-family='Liberation Sans'>225</text></svg>
<span class="sym">NIKKEI</span>
<span class="num last"><span style="color:#131722">50,5</span><span style="color:#139a85">88</span></span>
<span class="num chg" style="color:#f23645">−573</span>
<span class="num chgp" style="color:#f23645">−1.12%</span>
</div>
<div class="row" style="top:239px">
<svg class="ic" width="18" height="18" viewBox="0 0 18 18"><defs><clipPath id="c4"><circle cx="9" cy="9" r="9"/></clipPath></defs><g clip-path="url(#c4)"><rect width="18" height="18" fill="#fff"/><rect y="0" width="18" height="3" fill="#e8383d"/><rect y="6" width="18" height="4.5" fill="#ec3b3f"/><rect y="13.5" width="18" height="4.5" fill="#dd3b3f"/><rect width="11" height="10.5" fill="#2f6fd8"/><circle cx="3" cy="2.5" r="0.8" fill="#fff"/><circle cx="6" cy="2.5" r="0.8" fill="#fff"/><circle cx="9" cy="2.5" r="0.8" fill="#fff"/><circle cx="3" cy="5.5" r="0.8" fill="#fff"/><circle cx="6" cy="5.5" r="0.8" fill="#fff"/><circle cx="9" cy="5.5" r="0.8" fill="#fff"/><circle cx="3" cy="8.5" r="0.8" fill="#fff"/><circle cx="6" cy="8.5" r="0.8" fill="#fff"/><circle cx="9" cy="8.5" r="0.8" fill="#fff"/></g></svg>
<span class="sym">DJIA1!<span class="badge">D</span></span>
<span class="num last"><span style="color:#131722">47,2</span><span style="color:#139a85">61</span></span>
<span class="num chg" style="color:#139a85">128</span>
<span class="num chgp" style="color:#139a85">0.27%</span>
</div>
<div class="row" style="top:269px">
<svg class="ic" width="18" height="18" viewBox="0 0 18 18"><defs><clipPath id="c5"><circle cx="9" cy="9" r="9"/></clipPath></defs><g clip-path="url(#c5)"><rect width="18" height="18" fill="#fff"/><rect y="0" width="18" height="3" fill="#e8383d"/><rect y="6" width="18" height="4.5" fill="#ec3b3f"/><rect y="13.5" width="18" height="4.5" fill="#dd3b3f"/><rect width="11" height="10.5" fill="#2f6fd8"/><circle cx="3" cy="2.5" r="0.8" fill="#fff"/><circle cx="6" cy="2.5" r="0.8" fill="#fff"/><circle cx="9" cy="2.5" r="0.8" fill="#fff"/><circle cx="3" cy="5.5" r="0.8" fill="#fff"/><circle cx="6" cy="5.5" r="0.8" fill="#fff"/><circle cx="9" cy="5.5" r="0.8" fill="#fff"/><circle cx="3" cy="8.5" r="0.8" fill="#fff"/><circle cx="6" cy="8.5" r="0.8" fill="#fff"/><circle cx="9" cy="8.5" r="0.8" fill="#fff"/></g></svg>
<span class="sym">NAS100</span>
<span class="num last"><span style="color:#131722">25,34</span><span style="color:#f23645">4.70</span></span>
<span class="num chg" style="color:#f23645">−99.30</span>
<span class="num chgp" style="color:#f23645">−0.39%</span>
</div>
<div class="row" style="top:299px">
<svg class="ic" width="18" height="18" viewBox="0 0 18 18"><circle cx="9" cy="9" r="9" fill="#138c72"/><text x="9" y="13.5" font-size="13" font-weight="bold" fill="#fff" text-anchor="middle" font-family='Liberation Sans'>S</text></svg>
<span class="sym">DXY</span>
<span class="num last"><span style="color:#131722">100.</span><span style="color:#f23645">197</span></span>
<span class="num chg" style="color:#139a85">0.314</span>
<span class="num chgp" style="color:#139a85">0.31%</span>
</div>
<div class="row" style="top:329px">
<svg class="ic" width="18" height="18" viewBox="0 0 18 18"><circle cx="9" cy="9" r="9" fill="#131722"/><path d="M9 3.8c-1.5 2.2-3.2 4.3-3.2 6.4a3.2 3.2 0 0 0 6.4 0c0-2.1-1.7-4.2-3.2-6.4z" fill="#fff"/></svg>
<span class="sym">WTI</span>
<span class="num last"><span style="color:#131722">60.1</span><span style="color:#f23645">45</span></span>
<span class="num chg" style="color:#139a85">0.080</span>
<span class="num chgp" style="color:#139a85">0.13%</span>
</div>
<div class="row" style="top:359px">
<svg class="ic" width="18" height="18" viewBox="0 0 18 18"><circle cx="9" cy="9" r="9" fill="#131722"/><path d="M9 3.8c-1.5 2.2-3.2 4.3-3.2 6.4a3.2 3.2 0 0 0 6.4 0c0-2.1-1.7-4.2-3.2-6.4z" fill="#fff"/></svg>
<span class="sym">BRENT<span class="gdot"></span></span>
<span class="num last"><span style="color:#131722">64.</span><span style="color:#139a85">317</span></span>
<span class="num chg" style="color:#f23645">−0.530</span>
<span class="num chgp" style="color:#f23645">−0.82%</span>
</div>
<div class="row" style="top:389px">
<svg class="ic" width="18" height="18" viewBox="0 0 18 18"><circle cx="12.5" cy="5.5" r="5.5" fill="#fff" stroke="#e3e3e3" stroke-width=".6"/><circle cx="12.5" cy="5.5" r="2.4" fill="#e0383e"/><circle cx="6.5" cy="11.5" r="7.3" fill="#fff"/><defs><clipPath id="u1"><circle cx="6.5" cy="11.5" r="6.5"/></clipPath></defs><g clip-path="url(#u1)"><rect x="0.0" y="5.0" width="13.0" height="13.0" fill="#fff"/><rect x="0.0" y="5.0" width="13.0" height="2.17" fill="#e8383d"/><rect x="0.0" y="9.33" width="13.0" height="3.25" fill="#ec3b3f"/><rect x="0.0" y="14.75" width="13.0" height="3.25" fill="#dd3b3f"/><rect x="0.0" y="5.0" width="7.94" height="7.58" fill="#2f6fd8"/></g></svg>
<span class="sym">USDJPY</span>
<span class="num last"><span style="color:#131722">153.68</span><span style="color:#139a85"><sup>2</sup></span></span>
<span class="num chg" style="color:#139a85">0.017</span>
<span class="num chgp" style="color:#139a85">0.01%</span>
</div>
<div class="row" style="top:419px">
<svg class="ic" width="18" height="18" viewBox="0 0 18 18"><defs><clipPath id="u2"><circle cx="12.5" cy="5.5" r="5.5"/></clipPath></defs><g clip-path="url(#u2)"><rect x="7.0" y="0.0" width="11.0" height="11.0" fill="#fff"/><rect x="7.0" y="0.0" width="11.0" height="1.83" fill="#e8383d"/><rect x="7.0" y="3.67" width="11.0" height="2.75" fill="#ec3b3f"/><rect x="7.0" y="8.25" width="11.0" height="2.75" fill="#dd3b3f"/><rect x="7.0" y="0.0" width="6.72" height="6.42" fill="#2f6fd8"/></g><circle cx="6.5" cy="11.5" r="7.3" fill="#fff"/><circle cx="6.5" cy="11.5" r="6.5" fill="#1f4fa8"/><circle cx="6.5" cy="11.5" r="3.5" fill="none" stroke="#f6cd2f" stroke-width="1" stroke-dasharray=".8,1"/></svg>
<span class="sym">EURUSD</span>
<span class="num last"><span style="color:#131722">1.1483</span><span style="color:#f23645"><sup>4</sup></span></span>
<span class="num chg" style="color:#139a85">0.00008</span>
<span class="num chgp" style="color:#139a85">0.01%</span>
</div>
<div class="row" style="top:449px">
<svg class="ic" width="18" height="18" viewBox="0 0 18 18"><defs><clipPath id="u3"><circle cx="12.5" cy="5.5" r="5.5"/></clipPath></defs><g clip-path="url(#u3)"><rect x="7.0" y="0.0" width="11.0" height="11.0" fill="#fff"/><rect x="7.0" y="0.0" width="11.0" height="1.83" fill="#e8383d"/><rect x="7.0" y="3.67" width="11.0" height="2.75" fill="#ec3b3f"/><rect x="7.0" y="8.25" width="11.0" height="2.75" fill="#dd3b3f"/><rect x="7.0" y="0.0" width="6.72" height="6.42" fill="#2f6fd8"/></g><circle cx="6.5" cy="11.5" r="7.3" fill="#fff"/><defs><clipPath id="g3"><circle cx="6.5" cy="11.5" r="6.5"/></clipPath></defs><g clip-path="url(#g3)"><rect x="0" y="5" width="13" height="13" fill="#27408b"/><path d="M0 5l13 13M13 5L0 18" stroke="#fff" stroke-width="2.6"/><path d="M0 5l13 13M13 5L0 18" stroke="#d9303a" stroke-width="1"/><path d="M0 11.5h13M6.5 5v13" stroke="#fff" stroke-width="3.4"/><path d="M0 11.5h13M6.5 5v13" stroke="#d9303a" stroke-width="1.8"/></g></svg>
<span class="sym">GBPUSD</span>
<span class="num last"><span style="color:#131722">1.302</span><span style="color:#139a85">1</span><span style="color:#139a85"><sup>0</sup></span></span>
<span class="num chg" style="color:#139a85">0.00008</span>
<span class="num chgp" style="color:#139a85">0.01%</span>
</div>
<div class="row" style="top:479px">
<svg class="ic" width="18" height="18" viewBox="0 0 18 18"><defs><clipPath id="u4"><circle cx="12.5" cy="5.5" r="5.5"/></clipPath></defs><g clip-path="url(#u4)"><rect x="7.0" y="0.0" width="11.0" height="11.0" fill="#fff"/><rect x="7.0" y="0.0" width="11.0" height="1.83" fill="#e8383d"/><rect x="7.0" y="3.67" width="11.0" height="2.75" fill="#ec3b3f"/><rect x="7.0" y="8.25" width="11.0" height="2.75" fill="#dd3b3f"/><rect x="7.0" y="0.0" width="6.72" height="6.42" fill="#2f6fd8"/></g><circle cx="6.5" cy="11.5" r="7.3" fill="#fff"/><circle cx="6.5" cy="11.5" r="6.5" fill="#e0383e"/><path d="M3.4 11.5h6.2M6.5 8.4v6.2" stroke="#fff" stroke-width="2"/></svg>
<span class="sym">CHFUSD</span>
<span class="num last"><span style="color:#131722">1.2338</span><span style="color:#f23645"><sup>4</sup></span></span>
<span class="num chg" style="color:#f23645">−0.00097</span>
<span class="num chgp" style="color:#f23645">−0.08%</span>
</div>
<div class="row" style="top:509px">
<svg class="ic" width="18" height="18" viewBox="0 0 18 18"><defs><clipPath id="u5"><circle cx="12.5" cy="5.5" r="5.5"/></clipPath></defs><g clip-path="url(#u5)"><rect x="7.0" y="0.0" width="11.0" height="11.0" fill="#fff"/><rect x="7.0" y="0.0" width="11.0" height="1.83" fill="#e8383d"/><rect x="7.0" y="3.67" width="11.0" height="2.75" fill="#ec3b3f"/><rect x="7.0" y="8.25" width="11.0" height="2.75" fill="#dd3b3f"/><rect x="7.0" y="0.0" width="6.72" height="6.42" fill="#2f6fd8"/></g><circle cx="6.5" cy="11.5" r="7.3" fill="#fff"/><circle cx="6.5" cy="11.5" r="6.5" fill="#24368c"/><circle cx="9" cy="14" r=".9" fill="#fff"/><circle cx="4.5" cy="14.8" r="1.1" fill="#fff"/><path d="M1.3 8.3h4.4M3.5 6.1v4.4" stroke="#fff" stroke-width="1.3"/><path d="M1.3 8.3h4.4M3.5 6.1v4.4" stroke="#e0383e" stroke-width=".7"/></svg>
<span class="sym">AUDUSD</span>
<span class="num last"><span style="color:#131722">0.6483</span><span style="color:#139a85"><sup>4</sup></span></span>
<span class="num chg" style="color:#f23645">−0.00060</span>
<span class="num chgp" style="color:#f23645">−0.09%</span>
</div>
<div class="abs" style="left:0.5px;top:149px;width:371.5px;height:28.5px;border:2px solid #131722;border-radius:6px"></div>
</div>
<div id="det">
<svg class="abs" style="left:15.8px;top:11.8px" width="24" height="24" viewBox="0 0 18 18"><circle cx="9" cy="9" r="9" fill="#b3b2c3"/><path d="M7 4.8h4l1.3 3.3h-6.6z M3.3 9.2h4.1l1.1 3.3h-6.5z M10.6 9.2h4.1l1.3 3.3h-6.5z" fill="#fff"/></svg>
<div class="abs" style="left:48px;top:17.5px;font-size:12.2px;font-weight:bold">SILVER</div>
<div class="abs" style="left:16px;top:51px;font-size:11.6px;white-space:nowrap;transform:scaleX(0.94);transform-origin:0 0">Silver (XAGUSD)</div>
<svg class="abs" style="left:106px;top:52px" width="13" height="13" viewBox="0 0 13 13"><g fill="none" stroke="#6a6d78" stroke-width="1"><path d="M6 1.5H1.5v10h10V7"/><path d="M7.5 1.5h4v4M11.5 1.5l-5 5"/></g></svg>
<div class="abs" style="left:124px;top:53px;font-size:12px;color:#787b86">•</div>
<div class="abs" style="left:133.3px;top:53.5px;font-size:10.4px;white-space:nowrap">CAPITALCOM</div>
<div class="abs" style="left:16px;top:72.5px;font-size:12.4px;color:#a3a6af;white-space:nowrap">Commodity • Cfd</div>
<div class="abs" style="left:16.5px;top:106.5px;font-size:28px;font-weight:bold;color:#0b8f78;letter-spacing:1.1px">47.155</div>
<div class="abs" style="left:112.6px;top:120.5px;font-size:11.5px;color:#131722;transform:scaleX(0.83);transform-origin:0 0">USD</div>
<div class="abs" style="left:142px;top:117px;font-size:15.2px;font-weight:bold;color:#0b8f78;letter-spacing:0.5px">+0.021</div>
<div class="abs" style="left:203px;top:117px;font-size:15.2px;font-weight:bold;color:#0b8f78;letter-spacing:0.2px">+0.04%</div>
<div class="abs" style="left:21px;top:144px;width:8px;height:8px;border-radius:4px;background:#089981"></div>
<div class="abs" style="left:34.5px;top:140px;font-size:13px;color:#089981">Market open</div>
<div class="abs" style="left:16px;top:171px;width:89.5px;height:17.5px;border-radius:9px;background:#e3ecfd;font-size:11.5px;color:#2962ff;text-align:center;line-height:17.5px">47.154×22000</div>
<div class="abs" style="left:114.5px;top:171px;width:88.5px;height:17.5px;border-radius:9px;background:#fde4e6;font-size:11.5px;color:#f23645;text-align:center;line-height:17.5px">47.202×22000</div>
<div class="abs" style="left:16px;top:204px;font-size:12px;letter-spacing:0.45px">46.980</div>
<div class="abs" style="left:153.5px;top:205px;font-size:10px;color:#9598a1">DAY’S RANGE</div>
<div class="abs" style="right:16px;top:204px;font-size:12px;letter-spacing:0.3px">47.179</div>
<div class="abs" style="left:16px;top:224px;width:341px;height:5.5px;border-radius:3px;background:#f0f0f0"></div>
<div class="abs" style="left:285px;top:224px;width:32.5px;height:5.5px;background:#22ab94"></div>
<svg class="abs" style="left:311.5px;top:232.5px" width="12" height="7" viewBox="0 0 12 7"><path d="M6 0.5l5 6h-10z" fill="#131722"/></svg>
<div class="abs" style="left:16px;top:265px;font-size:12px;font-weight:bold">Seasonals</div>
<svg class="abs" style="left:0;top:285px" width="373" height="50" viewBox="0 0 373 50">
<g stroke="#c9cbd1" stroke-dasharray="4.5,7"><line x1="68.5" y1="4" x2="68.5" y2="50"/><line x1="149.5" y1="4" x2="149.5" y2="50"/><line x1="231.5" y1="4" x2="231.5" y2="50"/><line x1="311.5" y1="4" x2="311.5" y2="50"/></g>
<polyline points="248,48 251,44.8 256,40 260.2,36.6 263.3,31.5 269.5,11 271,20 272.5,18.2 274.6,33.5 277,31 279.7,41.7 282.8,34.5 286,38" fill="none" stroke="#2962ff" stroke-width="2.8" stroke-opacity=".85" stroke-linejoin="round"/>
<circle cx="287.9" cy="40.7" r="3.8" fill="#2962ff" fill-opacity=".85"/>
</svg>
</div>
<div class="abs" style="left:1447.8px;top:820.4px;width:8px;height:26px;background:#fff;border:1px solid #e0e3eb;border-radius:4px"></div>
<svg class="abs" style="left:1449px;top:829px" width="6" height="9" viewBox="0 0 6 9"><path d="M1.5 1l3 3.5-3 3.5" fill="none" stroke="#9598a1" stroke-width="1"/></svg>
<svg class="abs" style="left:0;top:0;pointer-events:none" width="1824" height="871" viewBox="0 0 1824 871">
<g fill="none" stroke="#131722" stroke-width="1">
<path d="M1720.5 18v15M1713 25.5h15"/>
<path d="M1749.5 25.5V19a1.5 1.5 0 0 1 1.5-1.5H1766a1.5 1.5 0 0 1 1.5 1.5V33a1.5 1.5 0 0 1-1.5 1.5H1758.5V17.5M1749.5 21.5H1767.5M1762.5 21.5V34.5M1758.5 27.5H1767.5"/>
<path d="M1749.5 33.5l5-5M1751 28.5h3.5v3.5"/>
<circle cx="1789.8" cy="26.4" r="2.1" stroke-width="1"/><circle cx="1796.7" cy="26.4" r="2.1" stroke-width="1"/><circle cx="1803.6" cy="26.4" r="2.1" stroke-width="1"/>
<rect x="1711.5" y="555.5" width="7" height="7" rx="2"/><rect x="1721.5" y="555.5" width="7" height="7" rx="2"/>
<rect x="1711.5" y="565.5" width="7" height="7" rx="2"/><rect x="1721.5" y="565.5" width="7" height="7" rx="2"/>
<path d="M1758.5 555.5H1752.5a3 3 0 0 0-3 3V569.5a3 3 0 0 0 3 3H1764a3 3 0 0 0 3-3V566"/>
<path d="M1755.5 567.5v-2.8l9.2-9.2a1.2 1.2 0 0 1 1.7 0l1.1 1.1a1.2 1.2 0 0 1 0 1.7l-9.2 9.2z M1763.6 556.6l2.8 2.8"/>
<circle cx="1789.8" cy="564.4" r="2.1" stroke-width="1"/><circle cx="1796.7" cy="564.4" r="2.1" stroke-width="1"/><circle cx="1803.6" cy="564.4" r="2.1" stroke-width="1"/>
</g>
</svg>
</body></html>
